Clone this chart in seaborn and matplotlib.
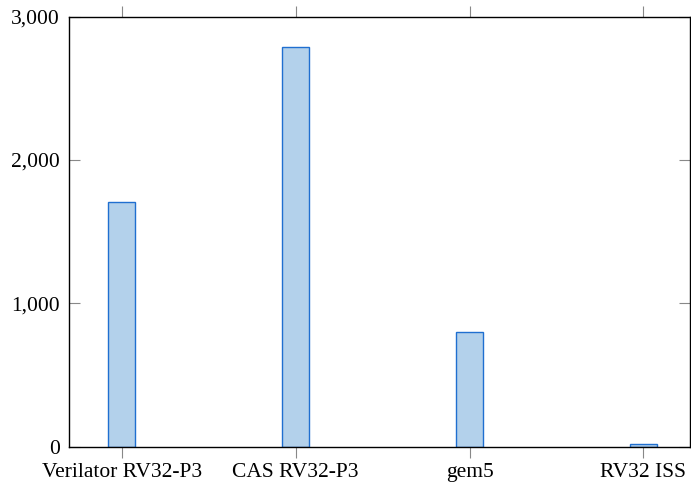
import matplotlib
matplotlib.use("Agg")
import matplotlib.pyplot as plt
import seaborn as sns
import pandas as pd
from matplotlib.ticker import FuncFormatter

categories = ["Verilator RV32-P3", "CAS RV32-P3", "gem5", "RV32 ISS"]
values = [1710, 2790, 800, 20]

df = pd.DataFrame({"sim": categories, "val": values})

sns.set_theme(style="white")
plt.rcParams["font.family"] = ["Liberation Serif", "DejaVu Serif"]

fig = plt.figure(figsize=(6.91, 4.91), dpi=100)
ax = fig.add_axes([0.1003, 0.0902, 0.8983, 0.8758])

sns.barplot(data=df, x="sim", y="val", ax=ax, width=0.155,
            color="#b3d1eb", edgecolor="#1f6fd0", linewidth=1.0, saturation=1)

ax.set_xlim(-0.303, 3.269)
ax.set_ylim(0, 3000)
ax.set_yticks([0, 1000, 2000, 3000])
ax.yaxis.set_major_formatter(FuncFormatter(lambda v, p: f"{int(v):,}"))
ax.set_xlabel("")
ax.set_ylabel("")

for s in ax.spines.values():
    s.set_visible(True)
    s.set_color("black")
    s.set_linewidth(1.0)

ax.tick_params(axis="x", direction="out", length=8, width=0.8, color="#888888",
               top=True, bottom=True, labelsize=15.5, pad=4, labelcolor="black")
ax.tick_params(axis="y", direction="in", length=8, width=0.8, color="#888888",
               left=True, right=True, labelsize=15.5, pad=7, labelcolor="black")

fig.savefig("out.png", dpi=100)
